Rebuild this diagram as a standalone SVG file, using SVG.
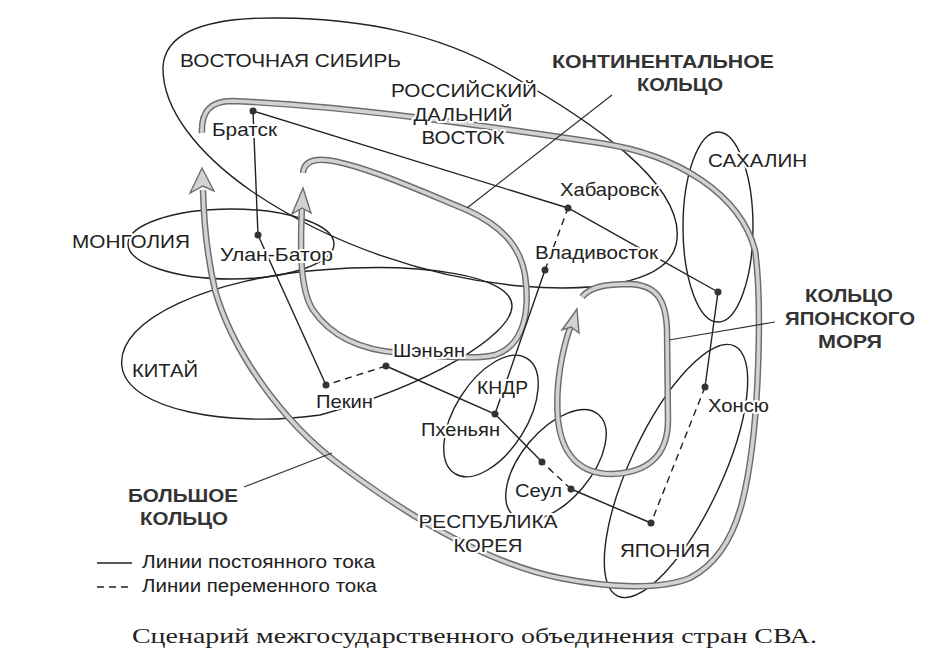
<svg xmlns="http://www.w3.org/2000/svg" width="945" height="665" viewBox="0 0 945 665">
<style>
.reg{fill:none;stroke:#222;stroke-width:1.4}
.tubeo{fill:none;stroke:#6d6d6d;stroke-width:6.5;stroke-linecap:butt}
.tubei{fill:none;stroke:#d2d2d2;stroke-width:3.6;stroke-linecap:butt}
.head{fill:#d2d2d2;stroke:#6d6d6d;stroke-width:1.4;stroke-linejoin:miter}
.ln{fill:none;stroke:#222;stroke-width:1.4}
.dash{stroke-dasharray:7 5}
.ptr{fill:none;stroke:#333;stroke-width:1.2}
.dot{fill:#333}
.t{font-family:"Liberation Sans",Arial,sans-serif;font-size:18.5px;fill:#222;stroke:#fff;stroke-width:4;paint-order:stroke;stroke-linejoin:round}
.b{font-weight:bold;font-size:19px;fill:#333}
.leg{font-family:"Liberation Sans",Arial,sans-serif;font-size:18px;fill:#222}
.cap{font-family:"Liberation Serif","Times New Roman",serif;font-size:22px;fill:#222}
</style>
<defs>
<path id="bigRing" d="M202,133 C201,112 210,101 232,101 C350,106 500,128 600,143 C680,155 740,195 755,250 C762,300 760,420 745,490 C735,540 715,565 690,578 C660,590 610,588 560,578 C480,562 400,510 340,465 C280,420 232,350 215,290 C208,260 204,230 203,190"/>
<path id="contRing" d="M303,173 C304,163 312,159 325,160 C360,163 430,195 467,210 C500,225 520,245 525,275 C530,310 525,345 495,355 C475,360 440,356 400,353 C360,350 330,335 313,310 C300,290 300,250 302,207"/>
<path id="seaRing" d="M582,297 C590,287 605,284 630,284 C655,285 666,298 667,330 L668,420 C668,458 645,473 612,474 C580,474 562,455 558,420 C555,385 562,350 571,325"/>
</defs>
<g id="region-vostochnaya-sibir">
<path class="reg" d="M163,67 C165,30 210,17 280,18 C360,19 435,32 505,72 C585,117 690,185 676,245 C666,285 590,292 520,286 C430,278 330,245 250,190 C200,155 162,110 163,67 Z"/>
</g>
<g id="region-mongolia"><ellipse class="reg" cx="231" cy="244" rx="103" ry="35"/></g>
<g id="region-china"><path class="reg" d="M122,367 C115,318 215,278 320,270 C420,262 512,275 512,306 C512,335 430,385 320,415 C230,428 128,410 122,367 Z"/></g>
<g id="region-sakhalin"><ellipse class="reg" cx="718" cy="227" rx="35" ry="95"/></g>
<g id="region-kndr"><ellipse class="reg" cx="491" cy="416" rx="68" ry="36" transform="rotate(-58 491 416)"/></g>
<g id="region-korea"><ellipse class="reg" cx="556" cy="465" rx="66" ry="35" transform="rotate(-50 556 465)"/></g>
<g id="region-japan"><ellipse class="reg" cx="676" cy="471" rx="138" ry="46" transform="rotate(-65 676 471)"/></g>
<g id="ring-big">
<use href="#bigRing" class="tubeo"/><use href="#bigRing" class="tubei"/>
<polygon class="head" points="202,168 214,191 203,186 190,193"/>
</g>
<g id="ring-continental">
<use href="#contRing" class="tubeo"/><use href="#contRing" class="tubei"/>
<polygon class="head" points="303,188 311,213 302,208 292,214"/>
</g>
<g id="ring-japan-sea">
<use href="#seaRing" class="tubeo"/><use href="#seaRing" class="tubei"/>
<polygon class="head" points="577,309 579,333 571,327 562,330"/>
</g>
<g id="connectors">
<line class="ln" x1="253" y1="111" x2="258" y2="235"/>
<polyline class="ln" points="253,111 568,208 718,292"/>
<line class="ln" x1="718" y1="292" x2="705" y2="387"/>
<line class="ln dash" x1="705" y1="387" x2="651" y2="523"/>
<line class="ln" x1="651" y1="523" x2="571" y2="489"/>
<line class="ln dash" x1="571" y1="489" x2="542" y2="462"/>
<polyline class="ln" points="542,462 495,414 386,366"/>
<line class="ln dash" x1="386" y1="366" x2="326" y2="385"/>
<line class="ln" x1="326" y1="385" x2="258" y2="235"/>
<line class="ln" x1="495" y1="414" x2="545" y2="270"/>
<line class="ln dash" x1="545" y1="270" x2="568" y2="208"/>
<line class="ptr" x1="467" y1="208" x2="612" y2="95"/>
<line class="ptr" x1="775" y1="322" x2="669" y2="340"/>
<line class="ptr" x1="244" y1="487" x2="332" y2="453"/>
</g>
<g id="labels-regions">
<text class="t" x="180" y="67" textLength="221" lengthAdjust="spacingAndGlyphs">ВОСТОЧНАЯ СИБИРЬ</text>
<text class="t" x="464" y="97" text-anchor="middle" textLength="146" lengthAdjust="spacingAndGlyphs">РОССИЙСКИЙ</text>
<text class="t" x="463" y="121" text-anchor="middle" textLength="99" lengthAdjust="spacingAndGlyphs">ДАЛЬНИЙ</text>
<text class="t" x="463" y="144" text-anchor="middle" textLength="83" lengthAdjust="spacingAndGlyphs">ВОСТОК</text>
<text class="t" x="72" y="248" textLength="118" lengthAdjust="spacingAndGlyphs">МОНГОЛИЯ</text>
<text class="t" x="132" y="377" textLength="66" lengthAdjust="spacingAndGlyphs">КИТАЙ</text>
<text class="t" x="708" y="167" textLength="99" lengthAdjust="spacingAndGlyphs">САХАЛИН</text>
<text class="t" x="477" y="394" textLength="51" lengthAdjust="spacingAndGlyphs">КНДР</text>
<text class="t" x="488" y="528" text-anchor="middle" textLength="139" lengthAdjust="spacingAndGlyphs">РЕСПУБЛИКА</text>
<text class="t" x="488" y="552" text-anchor="middle" textLength="69" lengthAdjust="spacingAndGlyphs">КОРЕЯ</text>
<text class="t" x="665" y="557" text-anchor="middle" textLength="90" lengthAdjust="spacingAndGlyphs">ЯПОНИЯ</text>
<text class="t b" x="663" y="68" text-anchor="middle" textLength="222" lengthAdjust="spacingAndGlyphs">КОНТИНЕНТАЛЬНОЕ</text>
<text class="t b" x="680" y="91" text-anchor="middle" textLength="86" lengthAdjust="spacingAndGlyphs">КОЛЬЦО</text>
<text class="t b" x="849" y="302" text-anchor="middle" textLength="88" lengthAdjust="spacingAndGlyphs">КОЛЬЦО</text>
<text class="t b" x="850" y="325" text-anchor="middle" textLength="130" lengthAdjust="spacingAndGlyphs">ЯПОНСКОГО</text>
<text class="t b" x="850" y="348" text-anchor="middle" textLength="64" lengthAdjust="spacingAndGlyphs">МОРЯ</text>
<text class="t b" x="183" y="502" text-anchor="middle" textLength="110" lengthAdjust="spacingAndGlyphs">БОЛЬШОЕ</text>
<text class="t b" x="184" y="525" text-anchor="middle" textLength="88" lengthAdjust="spacingAndGlyphs">КОЛЬЦО</text>
</g>
<g id="node-bratsk"><circle class="dot" cx="253" cy="111" r="3.5"/><text class="t" x="212" y="136" textLength="65" lengthAdjust="spacingAndGlyphs">Братск</text></g>
<g id="node-ulan-bator"><circle class="dot" cx="258" cy="235" r="3.5"/><text class="t" x="220" y="261" textLength="113" lengthAdjust="spacingAndGlyphs">Улан-Батор</text></g>
<g id="node-khabarovsk"><circle class="dot" cx="568" cy="208" r="3.5"/><text class="t" x="560" y="196" textLength="99" lengthAdjust="spacingAndGlyphs">Хабаровск</text></g>
<g id="node-vladivostok"><circle class="dot" cx="545" cy="270" r="3.5"/><text class="t" x="535" y="259" textLength="123" lengthAdjust="spacingAndGlyphs">Владивосток</text></g>
<g id="node-sakhalin"><circle class="dot" cx="718" cy="292" r="3.5"/></g>
<g id="node-honshu"><circle class="dot" cx="705" cy="387" r="3.5"/><text class="t" x="708" y="412" textLength="61" lengthAdjust="spacingAndGlyphs">Хонсю</text></g>
<g id="node-japan"><circle class="dot" cx="651" cy="523" r="3.5"/></g>
<g id="node-seoul"><circle class="dot" cx="571" cy="489" r="3.5"/><text class="t" x="515" y="497" textLength="47" lengthAdjust="spacingAndGlyphs">Сеул</text></g>
<g id="node-korea-border"><circle class="dot" cx="542" cy="462" r="3.5"/></g>
<g id="node-pyongyang"><circle class="dot" cx="495" cy="414" r="3.5"/><text class="t" x="421" y="436" textLength="79" lengthAdjust="spacingAndGlyphs">Пхеньян</text></g>
<g id="node-shenyang"><circle class="dot" cx="386" cy="366" r="3.5"/><text class="t" x="393" y="357" textLength="72" lengthAdjust="spacingAndGlyphs">Шэньян</text></g>
<g id="node-beijing"><circle class="dot" cx="326" cy="385" r="3.5"/><text class="t" x="316" y="408" textLength="57" lengthAdjust="spacingAndGlyphs">Пекин</text></g>
<g id="legend">
<line class="ln" x1="97" y1="563" x2="132" y2="563"/>
<line class="ln" x1="97" y1="587" x2="132" y2="587" stroke-dasharray="7 5"/>
<text class="leg" x="142" y="568" textLength="233" lengthAdjust="spacingAndGlyphs">Линии постоянного тока</text>
<text class="leg" x="142" y="592" textLength="235" lengthAdjust="spacingAndGlyphs">Линии переменного тока</text>
</g>
<text class="cap" x="132" y="643" textLength="685" lengthAdjust="spacingAndGlyphs">Сценарий межгосударственного объединения стран СВА.</text>
</svg>
